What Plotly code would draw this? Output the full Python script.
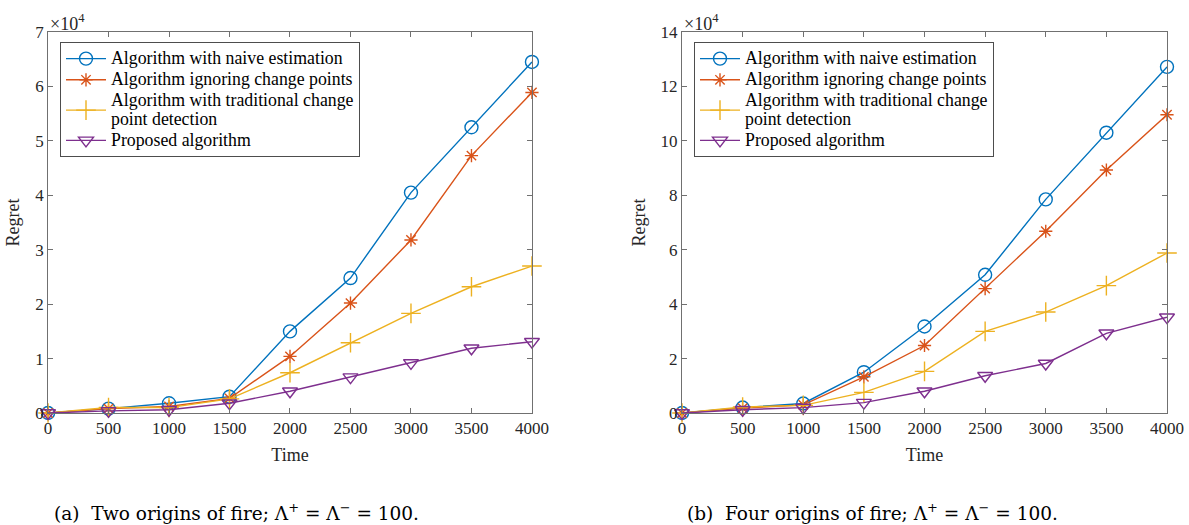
import plotly.graph_objects as go

time = [0, 500, 1000, 1500, 2000, 2500, 3000, 3500, 4000]

# Values in units of 1e4 (axes show x10^4)
a_naive = [0.0, 0.08, 0.18, 0.30, 1.50, 2.48, 4.05, 5.25, 6.45]
a_ignore = [0.0, 0.08, 0.12, 0.27, 1.04, 2.02, 3.18, 4.73, 5.89]
a_trad = [0.0, 0.10, 0.10, 0.26, 0.74, 1.29, 1.83, 2.32, 2.70]
a_prop = [0.0, 0.04, 0.06, 0.18, 0.40, 0.66, 0.92, 1.19, 1.31]

b_naive = [0.0, 0.20, 0.35, 1.50, 3.18, 5.08, 7.85, 10.30, 12.72]
b_ignore = [0.0, 0.18, 0.30, 1.33, 2.48, 4.57, 6.68, 8.93, 10.96]
b_trad = [0.0, 0.22, 0.28, 0.76, 1.53, 3.00, 3.71, 4.68, 5.88]
b_prop = [0.0, 0.12, 0.20, 0.38, 0.80, 1.37, 1.82, 2.93, 3.52]

name_lines = [["Algorithm with naive estimation"],
              ["Algorithm ignoring change points"],
              ["Algorithm with traditional change", "point detection"],
              ["Proposed algorithm"]]
colors = ["#0072BD", "#D95319", "#EDB120", "#7E2F8E"]
symbols = ["circle-open", "asterisk-open", "cross-thin-open", "triangle-down-open"]
sizes = [13, 11, 14, 13]

SERIF = "Liberation Serif"
LEG_PX = 17.8


def legend_name(lines):
    return "<br>".join(f"<span style='font-size:{LEG_PX}px'>{t}</span>" for t in lines)


fig = go.Figure()

for series, xa, ya, leg in [([a_naive, a_ignore, a_trad, a_prop], "x", "y", "legend"),
                            ([b_naive, b_ignore, b_trad, b_prop], "x2", "y2", "legend2")]:
    for vals, nl, c, s, sz in zip(series, name_lines, colors, symbols, sizes):
        fig.add_trace(go.Scatter(
            x=time, y=vals, name=legend_name(nl), mode="lines+markers",
            xaxis=xa, yaxis=ya, legend=leg, cliponaxis=False,
            line=dict(color=c, width=1.4),
            marker=dict(symbol=s, size=sz, color=c, line=dict(color=c, width=1.4)),
        ))

axis_common = dict(
    showline=True, linecolor="#707070", linewidth=1, mirror="ticks",
    ticks="inside", ticklen=5, tickcolor="#707070", showgrid=False, zeroline=False,
    automargin=False,
    tickfont=dict(family=SERIF, size=17, color="#262626"),
)
title_font = dict(family=SERIF, size=18, color="#262626")

fig.update_layout(
    width=1189, height=525,
    margin=dict(l=0, r=0, t=0, b=0, autoexpand=False),
    paper_bgcolor="white", plot_bgcolor="white",
    font=dict(family=SERIF, color="#262626"),
    xaxis=dict(domain=[0.0404, 0.4474], range=[0, 4000], tickvals=time, anchor="y",
               title=dict(text="Time", font=title_font, standoff=10),
               **axis_common),
    yaxis=dict(domain=[0.2133, 0.939], range=[0, 7], dtick=1, anchor="x",
               title=dict(text="Regret", font=title_font, standoff=10),
               **axis_common),
    xaxis2=dict(domain=[0.5736, 0.9815], range=[0, 4000], tickvals=time, anchor="y2",
                title=dict(text="Time", font=title_font, standoff=10),
                **axis_common),
    yaxis2=dict(domain=[0.2133, 0.939], range=[0, 14], dtick=2, anchor="x2",
                title=dict(text="Regret", font=title_font, standoff=10),
                **axis_common),
    legend=dict(x=60 / 1189, y=1 - 42 / 525, xanchor="left", yanchor="top",
                bgcolor="white", bordercolor="#4d4d4d", borderwidth=1,
                font=dict(family=SERIF, size=14, color="#000000"),
                tracegroupgap=0, itemwidth=40),
    legend2=dict(x=694 / 1189, y=1 - 42 / 525, xanchor="left", yanchor="top",
                 bgcolor="white", bordercolor="#4d4d4d", borderwidth=1,
                 font=dict(family=SERIF, size=14, color="#000000"),
                 tracegroupgap=0, itemwidth=40),
    showlegend=True,
)

# Exponent labels
for xpos in [48 / 1189, 682 / 1189]:
    fig.add_annotation(x=xpos, y=0.939, xref="paper", yref="paper",
                       xanchor="left", yanchor="bottom", showarrow=False, yshift=-4,
                       text="×10<sup>4</sup>", font=dict(family=SERIF, size=18, color="#262626"))

# Captions
captions = ["(a)  Two origins of fire; Λ<sup>+</sup> = Λ<sup>−</sup> = 100.",
            "(b)  Four origins of fire; Λ<sup>+</sup> = Λ<sup>−</sup> = 100."]
for cx, cap in zip([236 / 1189, 872 / 1189], captions):
    fig.add_annotation(x=cx, y=1 - 512 / 525, xref="paper", yref="paper",
                       xanchor="center", yanchor="middle", showarrow=False,
                       text=cap, font=dict(family="DejaVu Serif", size=18.5, color="#000000"))

fig.write_html("out.html")
